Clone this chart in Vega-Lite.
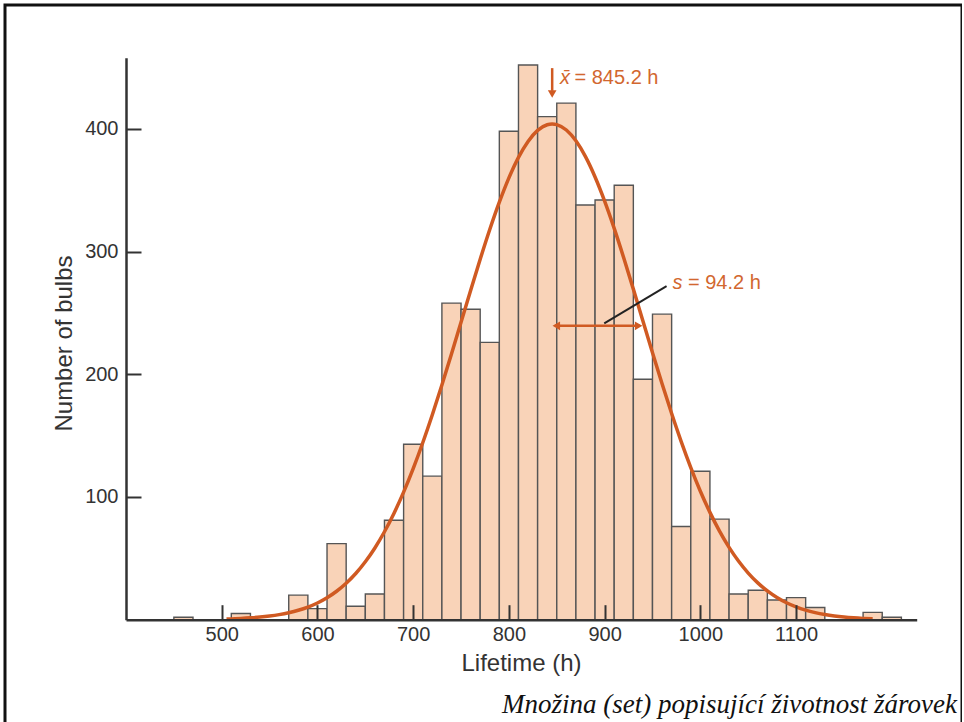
{
  "$schema": "https://vega.github.io/schema/vega-lite/v6.json",
  "width": 957,
  "height": 720,
  "autosize": {"type": "none"},
  "padding": {"left": 5, "top": 5, "right": 0, "bottom": 0},
  "background": "white",
  "config": {
    "view": {"stroke": "#111111", "strokeWidth": 3},
    "font": "Liberation Sans",
    "axis": {"grid": false}
  },
  "title": {
    "text": "Množina (set) popisující životnost žárovek",
    "orient": "bottom",
    "anchor": "end",
    "frame": "group",
    "offset": -33,
    "dx": -5,
    "font": "Liberation Serif",
    "fontStyle": "italic",
    "fontWeight": "normal",
    "fontSize": 27,
    "color": "#111111"
  },
  "datasets": {
    "bars": [
      {"lo": 450, "hi": 470, "count": 2},
      {"lo": 510, "hi": 530, "count": 5},
      {"lo": 570, "hi": 590, "count": 20},
      {"lo": 590, "hi": 610, "count": 9},
      {"lo": 610, "hi": 630, "count": 62},
      {"lo": 630, "hi": 650, "count": 11},
      {"lo": 650, "hi": 670, "count": 21},
      {"lo": 670, "hi": 690, "count": 81},
      {"lo": 690, "hi": 710, "count": 143},
      {"lo": 710, "hi": 730, "count": 117},
      {"lo": 730, "hi": 750, "count": 258},
      {"lo": 750, "hi": 770, "count": 253},
      {"lo": 770, "hi": 790, "count": 226},
      {"lo": 790, "hi": 810, "count": 398},
      {"lo": 810, "hi": 830, "count": 452},
      {"lo": 830, "hi": 850, "count": 410},
      {"lo": 850, "hi": 870, "count": 421},
      {"lo": 870, "hi": 890, "count": 338},
      {"lo": 890, "hi": 910, "count": 342},
      {"lo": 910, "hi": 930, "count": 354},
      {"lo": 930, "hi": 950, "count": 196},
      {"lo": 950, "hi": 970, "count": 249},
      {"lo": 970, "hi": 990, "count": 76},
      {"lo": 990, "hi": 1010, "count": 121},
      {"lo": 1010, "hi": 1030, "count": 82},
      {"lo": 1030, "hi": 1050, "count": 21},
      {"lo": 1050, "hi": 1070, "count": 24},
      {"lo": 1070, "hi": 1090, "count": 16},
      {"lo": 1090, "hi": 1110, "count": 18},
      {"lo": 1110, "hi": 1130, "count": 10},
      {"lo": 1170, "hi": 1190, "count": 6},
      {"lo": 1190, "hi": 1210, "count": 2}
    ],
    "curve": [
      {"h": 505, "n": 0.6}, {"h": 520, "n": 1.04}, {"h": 530, "n": 1.5}, {"h": 540, "n": 2.12},
      {"h": 550, "n": 2.98}, {"h": 560, "n": 4.13}, {"h": 570, "n": 5.67}, {"h": 580, "n": 7.68},
      {"h": 590, "n": 10.29}, {"h": 600, "n": 13.65}, {"h": 610, "n": 17.89}, {"h": 620, "n": 23.19},
      {"h": 630, "n": 29.73}, {"h": 640, "n": 37.67}, {"h": 650, "n": 47.2}, {"h": 660, "n": 58.48},
      {"h": 670, "n": 71.65}, {"h": 680, "n": 86.81}, {"h": 690, "n": 103.98}, {"h": 700, "n": 123.16},
      {"h": 710, "n": 144.23}, {"h": 720, "n": 167.03}, {"h": 730, "n": 191.26}, {"h": 740, "n": 216.56},
      {"h": 750, "n": 242.44}, {"h": 760, "n": 268.37}, {"h": 770, "n": 293.76}, {"h": 780, "n": 317.97},
      {"h": 790, "n": 340.26}, {"h": 800, "n": 360.08}, {"h": 810, "n": 376.76}, {"h": 820, "n": 389.79},
      {"h": 830, "n": 398.78}, {"h": 840, "n": 403.39}, {"h": 845.2, "n": 404}, {"h": 850, "n": 403.47},
      {"h": 860, "n": 399.05}, {"h": 870, "n": 390.24}, {"h": 880, "n": 377.35}, {"h": 890, "n": 360.8},
      {"h": 900, "n": 341.11}, {"h": 910, "n": 318.88}, {"h": 920, "n": 294.74}, {"h": 930, "n": 269.41},
      {"h": 940, "n": 243.48}, {"h": 950, "n": 217.59}, {"h": 960, "n": 192.26}, {"h": 970, "n": 167.98},
      {"h": 980, "n": 145.12}, {"h": 990, "n": 123.97}, {"h": 1000, "n": 104.71}, {"h": 1010, "n": 87.46},
      {"h": 1020, "n": 72.21}, {"h": 1030, "n": 58.98}, {"h": 1040, "n": 47.62}, {"h": 1050, "n": 38.02},
      {"h": 1060, "n": 30.02}, {"h": 1070, "n": 23.43}, {"h": 1080, "n": 18.08}, {"h": 1090, "n": 13.8},
      {"h": 1100, "n": 10.42}, {"h": 1110, "n": 7.77}, {"h": 1120, "n": 5.74}, {"h": 1130, "n": 4.19},
      {"h": 1140, "n": 3.02}, {"h": 1150, "n": 2.15}, {"h": 1160, "n": 1.52}, {"h": 1170, "n": 1.06},
      {"h": 1180, "n": 0.73}
    ]
  },
  "layer": [
    {
      "data": {"name": "bars"},
      "mark": {"type": "rect", "fill": "#F9D3B8", "stroke": "#555555", "strokeWidth": 1.4},
      "encoding": {
        "x": {
          "field": "lo", "type": "quantitative",
          "scale": {"domain": [400, 1226], "range": [121, 911.7], "nice": false, "zero": false},
          "axis": {
            "title": "Lifetime (h)", "orient": "bottom", "offset": -105.3, "zindex": 1,
            "values": [500, 600, 700, 800, 900, 1000, 1100], "format": "d",
            "tickSize": -15, "tickWidth": 2, "tickColor": "#333333",
            "domainColor": "#333333", "domainWidth": 2.5,
            "labelFontSize": 20, "labelColor": "#333333", "labelPadding": 20, "labelFont": "Liberation Sans",
            "titleFontSize": 24, "titleFontWeight": "normal", "titleColor": "#333333", "titleFont": "Liberation Sans",
            "titleX": 516, "titleY": 44, "titleAlign": "center", "titleBaseline": "middle"
          }
        },
        "x2": {"field": "hi"},
        "y": {
          "field": "count", "type": "quantitative",
          "scale": {"domain": [0, 458], "range": [614.7, 52.7], "nice": false, "zero": false},
          "axis": {
            "title": "Number of bulbs", "orient": "left", "offset": -121, "zindex": 1,
            "values": [100, 200, 300, 400], "format": "d",
            "tickSize": -15, "tickWidth": 2, "tickColor": "#333333",
            "domainColor": "#333333", "domainWidth": 2.5,
            "labelFontSize": 20, "labelColor": "#333333", "labelPadding": 23, "labelFont": "Liberation Sans",
            "titleFontSize": 24, "titleFontWeight": "normal", "titleColor": "#333333", "titleFont": "Liberation Sans",
            "titleX": -62, "titleY": 338, "titleAlign": "center", "titleBaseline": "middle", "titleAngle": -90
          }
        },
        "y2": {"datum": 0}
      }
    },
    {
      "data": {"name": "curve"},
      "mark": {"type": "line", "color": "#D05A22", "strokeWidth": 3.5, "interpolate": "monotone"},
      "encoding": {
        "x": {"field": "h", "type": "quantitative"},
        "y": {"field": "n", "type": "quantitative"}
      }
    },
    {
      "data": {"values": [{"x": 845.2, "top": 449.5, "bottom": 431}]},
      "mark": {"type": "rule", "color": "#D05A22", "strokeWidth": 2.5},
      "encoding": {
        "x": {"field": "x", "type": "quantitative"},
        "y": {"field": "top", "type": "quantitative"},
        "y2": {"field": "bottom"}
      }
    },
    {
      "data": {"values": [{"x": 845.2, "y": 428.5}]},
      "mark": {"type": "point", "shape": "triangle-down", "filled": true, "color": "#D05A22", "size": 75, "opacity": 1},
      "encoding": {
        "x": {"field": "x", "type": "quantitative"},
        "y": {"field": "y", "type": "quantitative"}
      }
    },
    {
      "data": {"values": [{"from": 848, "to": 937, "y": 239.5}]},
      "mark": {"type": "rule", "color": "#D05A22", "strokeWidth": 2.5},
      "encoding": {
        "x": {"field": "from", "type": "quantitative"},
        "x2": {"field": "to"},
        "y": {"field": "y", "type": "quantitative"}
      }
    },
    {
      "data": {"values": [{"x": 849.5, "y": 239.5}]},
      "mark": {"type": "point", "shape": "triangle-left", "filled": true, "color": "#D05A22", "size": 75, "opacity": 1},
      "encoding": {
        "x": {"field": "x", "type": "quantitative"},
        "y": {"field": "y", "type": "quantitative"}
      }
    },
    {
      "data": {"values": [{"x": 935.5, "y": 239.5}]},
      "mark": {"type": "point", "shape": "triangle-right", "filled": true, "color": "#D05A22", "size": 75, "opacity": 1},
      "encoding": {
        "x": {"field": "x", "type": "quantitative"},
        "y": {"field": "y", "type": "quantitative"}
      }
    },
    {
      "data": {"values": [{"x1": 899.6, "y1": 241.5, "x2": 964.7, "y2": 271.9}]},
      "mark": {"type": "rule", "color": "#222222", "strokeWidth": 2},
      "encoding": {
        "x": {"field": "x1", "type": "quantitative"},
        "y": {"field": "y1", "type": "quantitative"},
        "x2": {"field": "x2"},
        "y2": {"field": "y2"}
      }
    },
    {
      "data": {"values": [{"x": 853.5, "y": 441.7, "label": "x̄"}, {"x": 971, "y": 274, "label": "s"}]},
      "mark": {"type": "text", "align": "left", "baseline": "middle", "fontSize": 20, "fontStyle": "italic", "color": "#D2672F", "font": "Liberation Sans"},
      "encoding": {
        "x": {"field": "x", "type": "quantitative"},
        "y": {"field": "y", "type": "quantitative"},
        "text": {"field": "label"}
      }
    },
    {
      "data": {"values": [{"x": 868.5, "y": 441.7, "label": "= 845.2 h"}, {"x": 987, "y": 274, "label": "= 94.2 h"}]},
      "mark": {"type": "text", "align": "left", "baseline": "middle", "fontSize": 20, "color": "#D2672F", "font": "Liberation Sans"},
      "encoding": {
        "x": {"field": "x", "type": "quantitative"},
        "y": {"field": "y", "type": "quantitative"},
        "text": {"field": "label"}
      }
    }
  ]
}
